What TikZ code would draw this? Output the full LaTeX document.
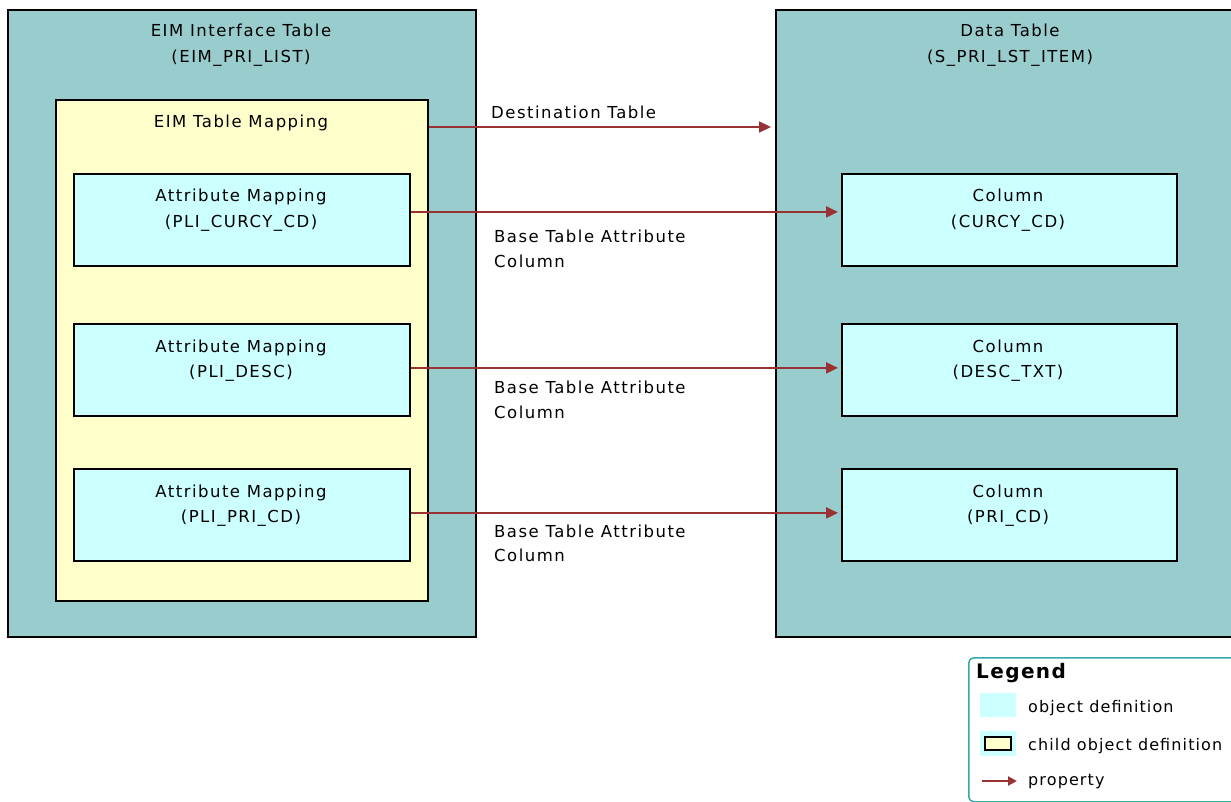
\documentclass[tikz,border=0pt]{standalone}
\usepackage{fontspec}
\setmainfont{DejaVu Sans}[LetterSpace=9]
\newfontfamily\legfont{DejaVu Sans}[LetterSpace=7]
\usetikzlibrary{arrows.meta}
\definecolor{tealbg}{HTML}{99CCCC}
\definecolor{yellowbg}{HTML}{FFFFCC}
\definecolor{cyanbg}{HTML}{CCFFFF}
\definecolor{propred}{HTML}{993333}
\definecolor{legline}{HTML}{33AAAA}
\tikzset{
  outerbox/.style={draw=black, line width=1.8pt, fill=tealbg, inner sep=0pt, anchor=north west},
  mapbox/.style={draw=black, line width=1.8pt, fill=yellowbg, inner sep=0pt, anchor=north west},
  objbox/.style={draw=black, line width=1.8pt, fill=cyanbg, inner sep=0pt, anchor=north west},
  txt/.style={inner sep=0pt, align=center, text=black, font=\fontsize{16.5}{25.5}\selectfont},
  ltxt/.style={inner sep=0pt, align=left, anchor=west, text=black, font=\fontsize{16.5}{24.5}\selectfont},
  legtxt/.style={inner sep=0pt, anchor=west, text=black, font=\legfont\fontsize{16}{20}\selectfont},
  prop/.style={draw=propred, line width=2.2pt, -{Triangle[length=12pt,width=11pt]}},
  smallprop/.style={draw=propred, line width=2.2pt, -{Triangle[length=9pt,width=9pt]}},
}
\begin{document}
\begin{tikzpicture}[x=1pt,y=-1pt]
\useasboundingbox (0,0) rectangle (1231,802);
\clip (0,0) rectangle (1231,802);
\fill[white] (0,0) rectangle (1231,802);
% outer boxes
\node[outerbox, minimum width=468pt, minimum height=627pt] (eim) at (7,9) {};
\node[outerbox, minimum width=480pt, minimum height=627pt] (dt) at (775,9) {};
\node[txt] (eimt) at (241,45) {EIM Interface Table\\(EIM\_PRI\_LIST)};
\node[txt] (dtt) at (1010,45) {Data Table\\(S\_PRI\_LST\_ITEM)};
% mapping box
\node[mapbox, minimum width=372pt, minimum height=501pt] (map) at (55,99) {};
\node[txt] (mapt) at (241,123) {EIM Table Mapping};
% attribute mappings
\node[objbox, minimum width=336pt, minimum height=92pt] (a1) at (73,173) {};
\node[objbox, minimum width=336pt, minimum height=92pt] (a2) at (73,323) {};
\node[objbox, minimum width=336pt, minimum height=92pt] (a3) at (73,468) {};
\node[txt] (a1t) at (241,210) {Attribute Mapping\\(PLI\_CURCY\_CD)};
\node[txt] (a2t) at (241,360.5) {Attribute Mapping\\(PLI\_DESC)};
\node[txt] (a3t) at (241,505.5) {Attribute Mapping\\(PLI\_PRI\_CD)};
% columns
\node[objbox, minimum width=335pt, minimum height=92pt] (c1) at (841,173) {};
\node[objbox, minimum width=335pt, minimum height=92pt] (c2) at (841,323) {};
\node[objbox, minimum width=335pt, minimum height=92pt] (c3) at (841,468) {};
\node[txt] (c1t) at (1008,210) {Column\\(CURCY\_CD)};
\node[txt] (c2t) at (1008,360.5) {Column\\(DESC\_TXT)};
\node[txt] (c3t) at (1008,505.5) {Column\\(PRI\_CD)};
% connectors
\draw[prop, shorten >=4pt] ([yshift=-28pt]map.north east) -- ([yshift=-118pt]dt.north west);
\draw[prop, shorten >=3pt] ([yshift=8pt]a1.east) -- ([yshift=8pt]c1.west);
\draw[prop, shorten >=3pt] ([yshift=2pt]a2.east) -- ([yshift=2pt]c2.west);
\draw[prop, shorten >=3pt] ([yshift=2pt]a3.east) -- ([yshift=2pt]c3.west);
\node[ltxt] (l0) at (491,112) {Destination Table};
\node[ltxt] (l1) at (494,249) {Base Table Attribute\\Column};
\node[ltxt] (l2) at (494,400) {Base Table Attribute\\Column};
\node[ltxt] (l3) at (494,543.5) {Base Table Attribute\\Column};
% legend
\node[draw=legline, line width=1.5pt, rounded corners=5pt, fill=white, inner sep=0pt, anchor=north west, minimum width=300pt, minimum height=144pt] (leg) at (968,657) {};
\node[inner sep=0pt, anchor=west, font=\legfont\fontsize{20}{22}\selectfont\bfseries] (legt) at (976,673) {Legend};
\node[fill=cyanbg, inner sep=0pt, anchor=north west, minimum width=36pt, minimum height=24pt] (sw1) at (980,693) {};
\node[legtxt] (sw1t) at (1028,708) {object definition};
\node[fill=cyanbg, inner sep=0pt, anchor=north west, minimum width=36pt, minimum height=25pt] (sw2) at (980,731) {};
\node[draw=black, line width=1.8pt, fill=yellowbg, inner sep=0pt, minimum width=26pt, minimum height=13pt] (sw2in) at (sw2.center) {};
\node[legtxt] (sw2t) at (1028,746) {child object definition};
\coordinate (p1) at (982,781);
\coordinate (p2) at (1017,781);
\draw[smallprop] (p1) -- (p2);
\node[legtxt] (pt) at (1028,782) {property};
\end{tikzpicture}
\end{document}
